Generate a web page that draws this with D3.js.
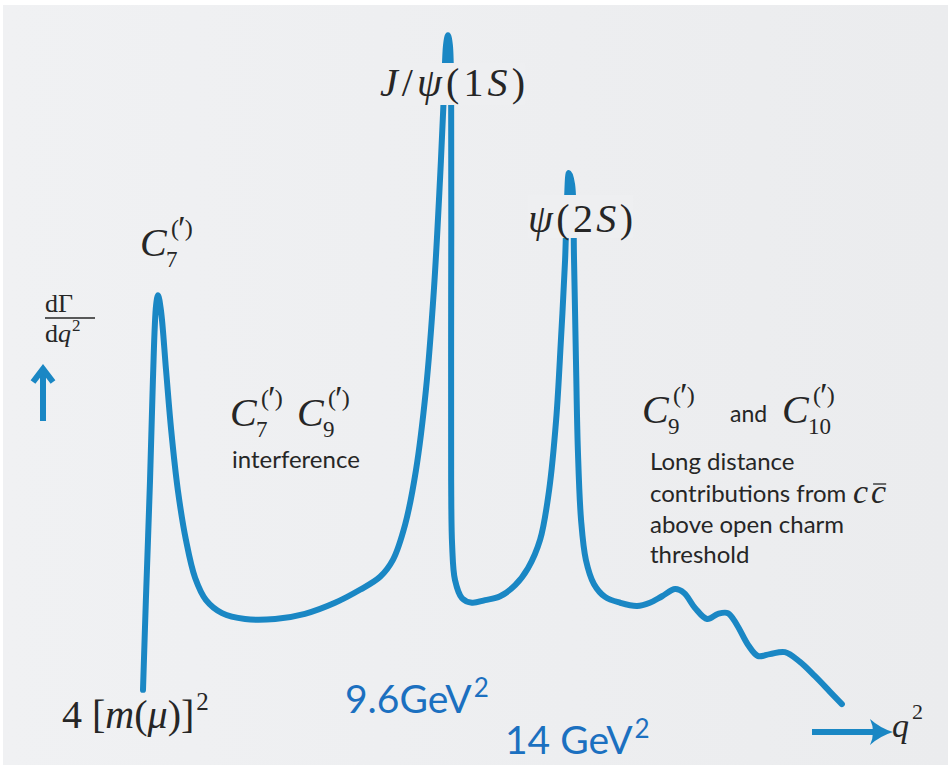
<!DOCTYPE html>
<html>
<head>
<meta charset="utf-8">
<script src="https://cdn.jsdelivr.net/npm/d3@7"></script>
<style>
  html, body { margin: 0; padding: 0; background: #ffffff; }
  svg { display: block; }
</style>
</head>
<body>
<svg id="chart" width="948" height="765"></svg>
<script>
// Schematic dΓ/dq² spectrum for b → s μμ, q² in GeV², rate in arbitrary units
const q2 = [
  0.00, 0.09, 0.22, 0.31, 0.41, 0.47, 0.56, 0.72, 0.88, 1.09,
  1.34, 1.63, 1.97, 2.47, 3.19, 4.13, 5.06, 6.00, 6.78, 7.41,
  7.81, 8.19, 8.53, 8.84, 9.09, 9.28, 9.41, 9.47, 9.53, 9.59,
  9.63, 9.63, 9.63, 9.66, 9.75, 9.97, 10.28, 10.69, 11.16, 11.63,
  12.03, 12.41, 12.69, 12.91, 13.06, 13.19, 13.25, 13.31, 13.41, 13.47,
  13.53, 13.59, 13.69, 13.84, 14.09, 14.44, 14.91, 15.44, 15.84, 16.22,
  16.63, 16.91, 17.25, 17.63, 17.97, 18.28, 18.56, 18.91, 19.22, 19.59,
  20.06, 20.53, 21.00, 21.47, 21.84
];
const rate = [
  3.1, 16.9, 35.4, 50.8, 62.3, 63.8, 61.5, 52.3, 43.1, 33.8,
  26.2, 20.3, 16.9, 14.9, 14.0, 14.0, 14.8, 16.5, 18.5, 20.5,
  23.1, 28.5, 36.9, 49.2, 64.6, 81.5, 95.4, 102.3, 103.8, 102.3,
  93.8, 63.1, 35.4, 25.4, 20.0, 17.2, 16.5, 16.9, 17.5, 19.2,
  21.8, 26.2, 33.8, 44.6, 56.9, 69.2, 78.5, 82.6, 80.8, 69.2,
  53.8, 40.0, 29.2, 23.1, 19.4, 17.4, 16.5, 16.0, 16.5, 17.5,
  18.6, 18.0, 15.7, 14.0, 14.8, 14.9, 13.1, 10.0, 8.3, 8.6,
  8.9, 7.4, 5.2, 2.8, 0.9
];

// Resonance markers on the q² axis
const markerLabels = ["9.6GeV", "14 GeV"];

const W = 948, H = 765;
const bg = "#eeeff1";
const lineColor = "#1a87c4";
const ink = "#262626";
const serif = "'Liberation Serif', 'DejaVu Serif', serif";
const sans = "Lato, 'Open Sans', sans-serif";

const svg = d3.select("#chart");

// background
svg.append("rect").attr("x", 0).attr("y", 0).attr("width", W).attr("height", H).attr("fill", "#ffffff");
const grad = svg.append("defs").append("linearGradient").attr("id", "bgGrad")
  .attr("x1", "0").attr("x2", "1").attr("y1", "0").attr("y2", "0");
grad.append("stop").attr("offset", "0").attr("stop-color", "#f0f1f3");
grad.append("stop").attr("offset", "1").attr("stop-color", "#ebecee");
svg.append("rect").attr("x", 3).attr("y", 5).attr("width", W - 3).attr("height", H - 5).attr("fill", "url(#bgGrad)");

const x = d3.scaleLinear().domain([0, 22]).range([143, 847]);
const y = d3.scaleLinear().domain([0, 100]).range([710, 60]);

const pts = q2.map((q, i) => [q, rate[i]]);
const line = d3.line()
  .x(d => x(d[0]))
  .y(d => y(d[1]))
  .curve(d3.curveCatmullRom.alpha(0.5));

svg.append("path")
  .datum(pts)
  .attr("d", line)
  .attr("fill", "none")
  .attr("stroke", lineColor)
  .attr("stroke-width", 6)
  .attr("stroke-linejoin", "round")
  .attr("stroke-linecap", "round");

// helper: text with mixed styles via tspans
function mathText(g, xPos, yPos, size, parts, opts = {}) {
  const t = g.append("text")
    .attr("x", xPos).attr("y", yPos)
    .attr("font-family", opts.family || serif)
    .attr("font-size", size)
    .attr("fill", opts.fill || ink);
  if (opts.textLength) t.attr("textLength", opts.textLength).attr("lengthAdjust", "spacing");
  parts.forEach(p => {
    const s = t.append("tspan").text(p.t);
    if (p.i) s.attr("font-style", "italic");
    if (p.size) s.attr("font-size", p.size);
    if (p.dx !== undefined) s.attr("dx", p.dx);
    if (p.dy !== undefined) s.attr("dy", p.dy);
    if (p.x !== undefined) s.attr("x", p.x);
    if (p.y !== undefined) s.attr("y", p.y);
  });
  return t;
}

const labels = svg.append("g");

// resonance labels, sitting over the curve on a background patch
function patchedLabel(xPos, yPos, size, parts, len, top, bottom) {
  const grp = labels.append("g");
  const rect = grp.append("rect").attr("fill", bg);
  const t = mathText(grp, xPos, yPos, size, parts, { textLength: len });
  const b = t.node().getBBox();
  rect.attr("x", b.x).attr("y", yPos - top).attr("width", b.width).attr("height", top + bottom);
  return t;
}
patchedLabel(380, 96, 40, [
  { t: "J", i: true }, { t: "/" }, { t: "ψ", i: true }, { t: "(1" }, { t: "S", i: true }, { t: ")" }
], 145, 33, 9);
patchedLabel(528, 232, 40, [
  { t: "ψ", i: true }, { t: "(2" }, { t: "S", i: true }, { t: ")" }
], 105, 37, 6);

// Wilson coefficient symbol C_sub^(′) as one text element
function wilson(g, xPos, yPos, sub) {
  const subX = xPos + 26, supX = xPos + 31;
  mathText(g, xPos, yPos, 40, [
    { t: "C", i: true },
    { t: sub, size: 23, x: subX, y: yPos + 11 },
    { t: "(", size: 24, x: supX, y: yPos - 20 },
    { t: "′", size: 35, dy: 5, dx: -1 },
    { t: ")", size: 24, dy: -5, dx: -1 }
  ]);
}

// C7 label over low-q² peak
wilson(labels, 140, 256, "7");

// dΓ/dq² axis title
mathText(labels, 45, 312, 26, [{ t: "d" }, { t: "Γ" }]);
labels.append("line").attr("x1", 45).attr("x2", 95).attr("y1", 318).attr("y2", 318)
  .attr("stroke", ink).attr("stroke-width", 1.4);
mathText(labels, 45, 342, 26, [{ t: "d" }, { t: "q", i: true }, { t: "2", size: 17, dy: -11, dx: 1 }]);

// vertical arrow
svg.append("line").attr("x1", 43).attr("x2", 43).attr("y1", 372).attr("y2", 421)
  .attr("stroke", lineColor).attr("stroke-width", 6);
svg.append("path").attr("d", "M33,382 L43,369 L53,382")
  .attr("fill", "none").attr("stroke", lineColor).attr("stroke-width", 6)
  .attr("stroke-linejoin", "miter");

// horizontal arrow + q²
svg.append("line").attr("x1", 812).attr("x2", 880).attr("y1", 732).attr("y2", 732)
  .attr("stroke", lineColor).attr("stroke-width", 6);
svg.append("path").attr("d", "M870,719 Q880,728 893,732 Q880,736 870,745 Q876,732 870,719 Z")
  .attr("fill", lineColor);
mathText(labels, 892, 737, 34, [{ t: "q", i: true }, { t: "2", size: 22, dy: -18, dx: 3 }]);

// interference label
wilson(labels, 230, 426, "7");
wilson(labels, 297, 426, "9");
labels.append("text").attr("x", 232).attr("y", 468)
  .attr("font-family", sans).attr("font-size", 24).attr("fill", ink)
  .text("interference");

// C9 and C10 label
wilson(labels, 642, 423, "9");
labels.append("text").attr("x", 730).attr("y", 422)
  .attr("font-family", sans).attr("font-size", 23).attr("fill", ink).text("and");
wilson(labels, 782, 423, "10");

// long-distance description
const ld = ["Long distance", "contributions from", "above open charm", "threshold"];
const ldY = [470, 502, 533, 563];
ld.forEach((s, i) => {
  labels.append("text").attr("x", 650).attr("y", ldY[i])
    .attr("font-family", sans).attr("font-size", 24).attr("fill", ink).text(s);
});
const cc = mathText(labels, 853, 503, 34, [{ t: "c", i: true }, { t: "c", i: true, dx: 3 }]);
const ccBox = cc.node().getBBox();
const cW = cc.node().getSubStringLength(0, 1);
labels.append("line").attr("x1", ccBox.x + cW + 5).attr("x2", ccBox.x + ccBox.width)
  .attr("y1", 484).attr("y2", 484)
  .attr("stroke", ink).attr("stroke-width", 1.3);

// threshold label
mathText(labels, 62, 728, 40, [
  { t: "4 [" }, { t: "m", i: true }, { t: "(" }, { t: "μ", i: true }, { t: ")]" },
  { t: "2", size: 25, dy: -18, dx: 2 }
]);

// resonance q² values
const markerX = [345, 505];
const markerY = [713, 754];
markerLabels.forEach((s, i) => {
  const t = svg.append("text").attr("x", markerX[i]).attr("y", markerY[i])
    .attr("font-family", sans).attr("font-size", 39).attr("fill", "#1b70c0");
  t.append("tspan").text(s);
  t.append("tspan").text("2").attr("font-size", 26).attr("dy", -16).attr("dx", 2);
});
</script>
</body>
</html>
